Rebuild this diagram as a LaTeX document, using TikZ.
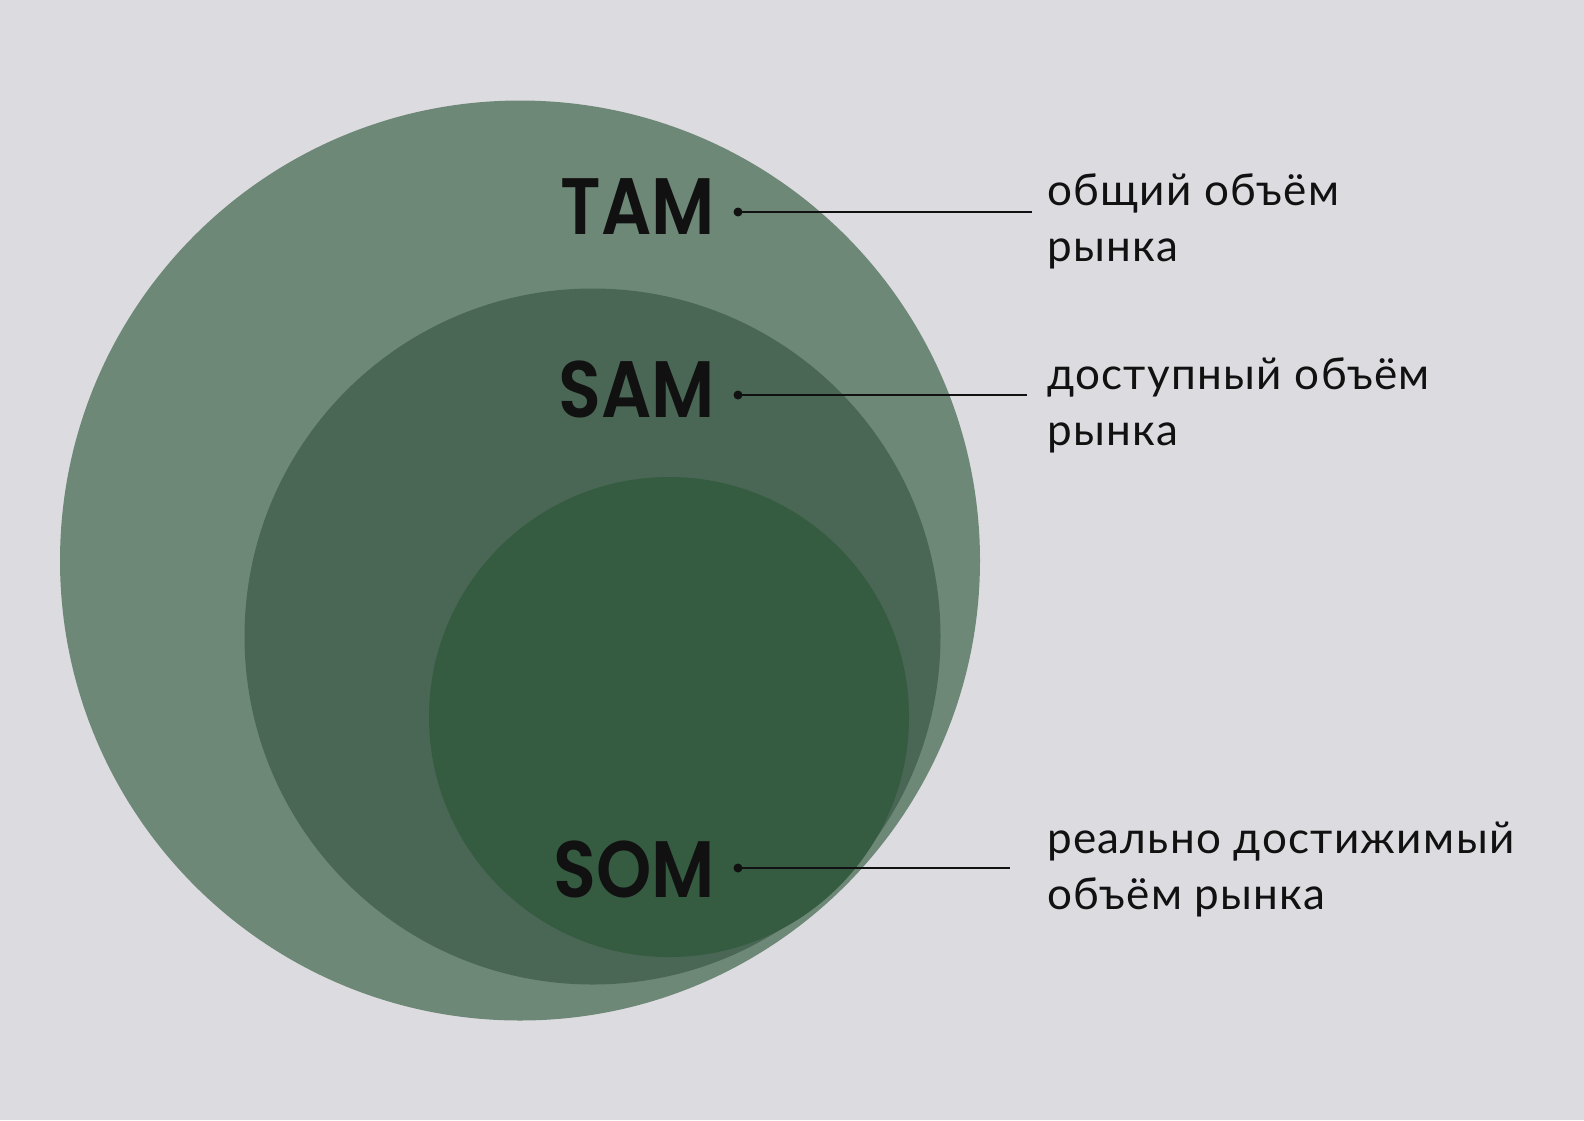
\documentclass[tikz,border=0pt]{standalone}
\usepackage{fontspec}
\setmainfont{Lato}[LetterSpace=3]
\newfontfamily\popfont{Poppins}[UprightFont=* SemiBold, FakeStretch=0.88]
\definecolor{bgc}{HTML}{DCDCE0}
\definecolor{tamc}{HTML}{6E8877}
\definecolor{samc}{HTML}{4A6756}
\definecolor{somc}{HTML}{355B41}
\definecolor{inkc}{HTML}{111111}
\tikzset{
  abbr/.style={anchor=base east, inner sep=0pt, text=inkc, font=\popfont\fontsize{80}{80}\selectfont},
  desc/.style={anchor=base west, inner sep=0pt, text=inkc, align=left, font=\fontsize{44}{56}\selectfont},
  dotn/.style={circle, fill=inkc, inner sep=0pt, minimum size=9pt},
  leader/.style={draw=inkc, line width=1.8pt},
}
\begin{document}
\begin{tikzpicture}[x=1pt,y=-1pt]
\fill[bgc] (0,0) rectangle (1584,1120);
\useasboundingbox (0,0) rectangle (1584,1120);
\fill[tamc] (520,560.5) circle (460);
\fill[samc] (592.5,636.5) circle (348);
\fill[somc] (669,717) circle (240);
\node[abbr] (tam) at (715,234) {TAM};
\node[abbr] (sam) at (715,417) {SAM};
\node[abbr] (som) at (715,897) {SOM};
\node[dotn] (tamdot) at (738,212) {};
\node[dotn] (samdot) at (738,395) {};
\node[dotn] (somdot) at (738,868) {};
\coordinate (tamend) at (1032,212);
\coordinate (samend) at (1027,395);
\coordinate (somend) at (1010,868);
\draw[leader] (tamdot.center) -- (tamend);
\draw[leader] (samdot.center) -- (samend);
\draw[leader] (somdot.center) -- (somend);
\node[desc] (tamtxt) at (1047,261) {общий объём\\рынка};
\node[desc] (samtxt) at (1047,445) {доступный объём\\рынка};
\node[desc] (somtxt) at (1047,909) {реально достижимый\\объём рынка};
\end{tikzpicture}
\end{document}
